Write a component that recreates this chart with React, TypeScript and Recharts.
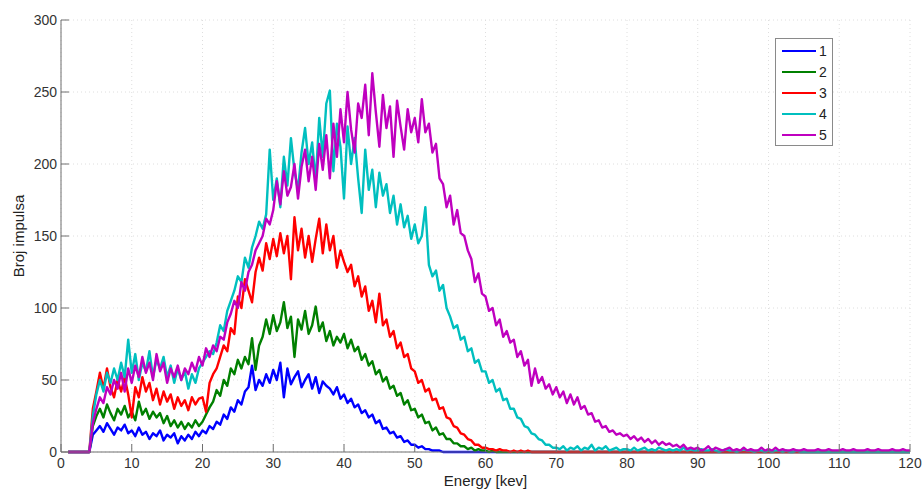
import React from 'react'
import { CartesianGrid, Line, LineChart, XAxis, YAxis } from 'recharts'

// energy channels, 0.5 keV apart, 0..120 keV
const ENERGY_STEP = 0.5
const ENERGY: number[] = Array.from({ length: 241 }, (_, i) => i * ENERGY_STEP)

const X_TICKS = [0, 10, 20, 30, 40, 50, 60, 70, 80, 90, 100, 110, 120]
const Y_TICKS = [0, 50, 100, 150, 200, 250, 300]

// counts, one row per 10 keV
const S1: (number | null)[] = [
  null, null, 0, 0, 0, 0, 0, 0, 0, 12, 15, 18, 14, 20, 16, 12, 17, 15, 19, 13,
  15, 11, 17, 12, 14, 9, 13, 11, 15, 8, 12, 10, 13, 6, 11, 8, 12, 9, 14, 11,
  15, 13, 18, 16, 21, 19, 26, 23, 31, 28, 36, 33, 42, 45, 60, 43, 50, 46, 54, 48,
  57, 50, 62, 38, 58, 47, 52, 56, 45, 50, 54, 44, 52, 41, 49, 46, 44, 40, 45, 37,
  40, 34, 37, 31, 33, 27, 29, 24, 26, 20, 22, 16, 17, 13, 14, 10, 11, 7, 8, 5,
  5, 3, 4, 2, 2, 1, 1, 1, 0, 0, 0, 0, 0, 0, 0, 0, 0, 0, 0, 0,
  0, 0, 0, 0, 0, 0, 0, 0, 0, 0, 0, 0, 0, 0, 0, 0, 0, 0, 0, 0,
  0, 0, 0, 0, 0, 0, 0, 0, 0, 0, 0, 0, 0, 0, 0, 0, 0, 0, 0, 0,
  0, 0, 0, 0, 0, 0, 0, 0, 0, 0, 0, 0, 0, 0, 0, 0, 0, 0, 0, 0,
  0, 0, 0, 0, 0, 0, 0, 0, 0, 0, 0, 0, 0, 0, 0, 0, 0, 0, 0, 0,
  0, 0, 0, 0, 0, 0, 0, 0, 0, 0, 0, 0, 0, 0, 0, 0, 0, 0, 0, 0,
  0, 0, 0, 0, 0, 0, 0, 0, 0, 0, 0, 0, 0, 0, 0, 0, 0, 0, 0, 0,
  0,
]

const S2: (number | null)[] = [
  null, null, 0, 0, 0, 0, 0, 0, 0, 18, 25, 30, 24, 33, 27, 22, 30, 26, 32, 24,
  28, 22, 35, 26, 30, 23, 28, 24, 27, 20, 25, 18, 22, 17, 21, 16, 20, 17, 22, 18,
  21, 26, 31, 35, 43, 39, 50, 46, 58, 54, 64, 58, 66, 61, 79, 57, 74, 80, 92, 82,
  95, 84, 90, 104, 86, 94, 66, 92, 85, 98, 82, 88, 101, 84, 90, 77, 84, 74, 80, 76,
  82, 72, 78, 70, 73, 64, 68, 60, 63, 54, 57, 49, 52, 44, 46, 39, 41, 33, 36, 29,
  30, 24, 26, 20, 21, 15, 17, 12, 13, 9, 9, 6, 6, 4, 4, 2, 3, 1, 2, 1,
  1, 0, 1, 0, 0, 0, 0, 0, 0, 0, 0, 0, 0, 0, 0, 0, 0, 0, 0, 0,
  0, 0, 0, 0, 0, 0, 0, 0, 0, 0, 0, 0, 0, 0, 0, 0, 0, 0, 0, 0,
  0, 0, 0, 0, 0, 0, 0, 0, 0, 0, 0, 0, 0, 0, 0, 0, 0, 0, 0, 0,
  0, 0, 0, 0, 0, 0, 0, 0, 0, 0, 0, 0, 0, 0, 0, 0, 0, 0, 0, 0,
  0, 0, 0, 0, 0, 0, 0, 0, 0, 0, 0, 0, 0, 0, 0, 0, 0, 0, 0, 0,
  0, 0, 0, 0, 0, 0, 0, 0, 0, 0, 0, 0, 0, 0, 0, 0, 0, 0, 0, 0,
  0,
]

const S3: (number | null)[] = [
  null, null, 0, 0, 0, 0, 0, 0, 0, 30, 42, 55, 44, 58, 45, 38, 50, 42, 52, 40,
  24, 45, 38, 52, 42, 48, 36, 44, 33, 42, 35, 40, 30, 38, 32, 36, 29, 38, 33, 37,
  38, 28, 48, 54, 58, 66, 74, 70, 86, 82, 108, 100, 120, 112, 104, 125, 135, 126, 145, 134,
  148, 136, 152, 138, 150, 120, 163, 140, 155, 135, 150, 132, 148, 162, 138, 158, 140, 150, 128, 140,
  132, 125, 130, 115, 122, 108, 115, 98, 105, 90, 110, 88, 92, 80, 84, 72, 76, 66, 68, 58,
  56, 48, 50, 42, 44, 36, 37, 30, 31, 24, 23, 18, 17, 13, 12, 9, 8, 5, 5, 3,
  3, 2, 2, 1, 2, 1, 1, 0, 1, 0, 1, 0, 1, 0, 0, 0, 0, 0, 0, 0,
  0, 0, 0, 0, 0, 0, 0, 0, 0, 0, 0, 0, 0, 0, 0, 0, 0, 0, 0, 0,
  0, 0, 0, 0, 0, 0, 0, 0, 0, 0, 0, 0, 0, 0, 0, 0, 0, 0, 0, 0,
  0, 0, 0, 0, 0, 0, 0, 0, 0, 0, 0, 0, 0, 0, 0, 0, 0, 0, 0, 0,
  0, 0, 0, 0, 0, 0, 0, 0, 0, 0, 0, 0, 0, 0, 0, 0, 0, 0, 0, 0,
  0, 0, 0, 0, 0, 0, 0, 0, 0, 0, 0, 0, 0, 0, 0, 0, 0, 0, 0, 0,
  0,
]

const S4: (number | null)[] = [
  null, null, 0, 0, 0, 0, 0, 0, 0, 25, 40, 50, 42, 55, 48, 58, 50, 62, 52, 78,
  55, 68, 50, 62, 56, 70, 52, 64, 58, 66, 52, 60, 48, 58, 50, 56, 44, 54, 48, 58,
  62, 66, 70, 68, 76, 88, 84, 98, 105, 112, 122, 118, 135, 128, 142, 150, 160, 155, 165, 210,
  175, 190, 170, 205, 185, 218, 195, 182, 208, 225, 200, 215, 188, 232, 205, 242, 251, 195, 228, 212,
  176, 226, 200, 218, 190, 166, 210, 182, 196, 170, 194, 178, 186, 166, 178, 158, 172, 156, 164, 148,
  158, 145, 150, 170, 130, 122, 126, 112, 116, 100, 94, 86, 88, 78, 80, 70, 72, 62, 64, 56,
  56, 48, 50, 42, 44, 36, 37, 30, 30, 24, 23, 18, 17, 13, 12, 9, 8, 5, 5, 3,
  3, 2, 4, 1, 3, 2, 4, 1, 3, 2, 5, 1, 3, 2, 4, 1, 2, 3, 1, 2,
  2, 1, 3, 1, 2, 3, 1, 2, 1, 3, 2, 1, 2, 1, 2, 1, 3, 1, 2, 1,
  1, 2, 1, 1, 2, 1, 0, 1, 2, 1, 1, 0, 1, 2, 1, 1, 0, 1, 1, 0,
  1, 0, 1, 1, 0, 1, 0, 0, 1, 0, 0, 0, 0, 0, 0, 0, 0, 0, 0, 0,
  0, 0, 0, 0, 0, 0, 0, 0, 0, 0, 0, 0, 0, 0, 0, 0, 0, 0, 0, 0,
  0,
]

const S5: (number | null)[] = [
  null, null, 0, 0, 0, 0, 0, 0, 0, 20, 30, 38, 34, 45, 40, 50, 44, 55, 42, 58,
  48, 60, 52, 66, 55, 62, 50, 68, 56, 62, 48, 58, 52, 60, 50, 58, 54, 62, 56, 66,
  60, 72, 66, 74, 70, 80, 78, 90, 96, 105, 100, 118, 112, 125, 130, 140, 145, 150, 162, 158,
  168, 188, 172, 195, 178, 184, 200, 176, 198, 210, 188, 205, 182, 214, 196, 220, 190, 228, 205, 238,
  215, 250, 224, 208, 242, 232, 255, 220, 263, 236, 212, 248, 225, 240, 205, 244, 226, 210, 238, 222,
  232, 215, 245, 222, 228, 208, 214, 190, 186, 170, 178, 158, 168, 152, 150, 140, 134, 118, 124, 110,
  108, 98, 100, 88, 92, 80, 84, 76, 78, 66, 70, 60, 64, 46, 58, 48, 52, 44, 47, 40,
  45, 38, 42, 34, 40, 33, 38, 30, 32, 26, 27, 21, 22, 17, 18, 14, 15, 12, 13, 11,
  12, 9, 11, 8, 10, 7, 9, 6, 8, 5, 7, 5, 6, 4, 5, 3, 5, 2, 3, 2,
  3, 1, 2, 4, 1, 3, 2, 1, 2, 3, 1, 2, 1, 3, 1, 2, 1, 1, 3, 1,
  2, 1, 3, 1, 2, 1, 1, 2, 1, 1, 2, 1, 1, 1, 2, 1, 1, 2, 1, 1,
  1, 2, 1, 1, 2, 1, 1, 1, 2, 1, 1, 2, 1, 1, 1, 2, 1, 1, 2, 1,
  1,
]

const SERIES = [
  { key: 's1', name: '1', color: '#0000ff', values: S1 },
  { key: 's2', name: '2', color: '#008000', values: S2 },
  { key: 's3', name: '3', color: '#ff0000', values: S3 },
  { key: 's4', name: '4', color: '#00bfbf', values: S4 },
  { key: 's5', name: '5', color: '#bf00bf', values: S5 },
]

const FONT = '"Liberation Sans", Arial, Helvetica, sans-serif'
const AXIS_COLOR = '#6e6e6e'
const TEXT_COLOR = '#333'

const chartData = ENERGY.map((e, i) => {
  const row: Record<string, number | null> = { energy: e }
  for (const s of SERIES) row[s.key] = s.values[i] ?? null
  return row
})

interface TickProps {
  x?: number
  y?: number
  payload?: { value: number }
}

function XTick({ x = 0, y = 0, payload }: TickProps) {
  return (
    <g>
      <line x1={x} y1={y} x2={x} y2={y - 8} stroke={AXIS_COLOR} strokeWidth={1} />
      <text x={x} y={y + 16} textAnchor="middle" fontSize={14} fill={TEXT_COLOR} fontFamily={FONT}>
        {payload?.value}
      </text>
    </g>
  )
}

function YTick({ x = 0, y = 0, payload }: TickProps) {
  return (
    <g>
      <line x1={x} y1={y} x2={x + 8} y2={y} stroke={AXIS_COLOR} strokeWidth={1} />
      <text x={x - 4} y={y + 5} textAnchor="end" fontSize={14} fill={TEXT_COLOR} fontFamily={FONT}>
        {payload?.value}
      </text>
    </g>
  )
}

// legend drawn as an overlay so it takes no space from the plot
function LegendBox() {
  return (
    <div
      style={{
        position: 'absolute',
        left: 775,
        top: 38,
        width: 58,
        height: 108,
        border: '1px solid #8a8a8a',
        background: '#fff',
        boxSizing: 'border-box',
        padding: '2px 0 0 6px',
        fontFamily: FONT,
      }}
    >
      {SERIES.map((s) => (
        <div key={s.key} style={{ display: 'flex', alignItems: 'center', height: 20.8 }}>
          <span style={{ display: 'inline-block', width: 34, height: 2, background: s.color }} />
          <span style={{ marginLeft: 3, fontSize: 14, lineHeight: '14px', color: '#222' }}>{s.name}</span>
        </div>
      ))}
    </div>
  )
}

export default function App() {
  return (
    <div style={{ position: 'absolute', left: 0, top: 0, width: 923, height: 489, background: '#fff' }}>
      <LineChart width={923} height={489} data={chartData} margin={{ top: 20, right: 13, bottom: 0, left: 0 }}>
        <CartesianGrid stroke="#dedede" strokeDasharray="1 3" />
        <XAxis
          dataKey="energy"
          type="number"
          domain={[0, 120]}
          ticks={X_TICKS}
          height={37}
          tickSize={0}
          tickMargin={0}
          tickLine={false}
          axisLine={{ stroke: AXIS_COLOR }}
          tick={<XTick />}
          interval={0}
        />
        <YAxis
          type="number"
          domain={[0, 300]}
          ticks={Y_TICKS}
          width={61}
          tickSize={0}
          tickMargin={0}
          tickLine={false}
          axisLine={{ stroke: AXIS_COLOR }}
          tick={<YTick />}
          interval={0}
        />
        {SERIES.map((s) => (
          <Line
            key={s.key}
            dataKey={s.key}
            name={s.name}
            type="linear"
            stroke={s.color}
            strokeWidth={2.4}
            strokeLinejoin="round"
            dot={false}
            activeDot={false}
            isAnimationActive={false}
          />
        ))}
      </LineChart>
      <LegendBox />
      <div
        style={{
          position: 'absolute',
          left: 0,
          top: 473,
          width: 971,
          textAlign: 'center',
          fontFamily: FONT,
          fontSize: 15,
          color: '#222',
          lineHeight: '15px',
        }}
      >
        Energy [kev]
      </div>
      <div
        style={{
          position: 'absolute',
          left: 18,
          top: 236,
          transform: 'translate(-50%, -50%) rotate(-90deg)',
          whiteSpace: 'nowrap',
          fontFamily: FONT,
          fontSize: 15,
          color: '#222',
          lineHeight: '15px',
        }}
      >
        Broj impulsa
      </div>
    </div>
  )
}
